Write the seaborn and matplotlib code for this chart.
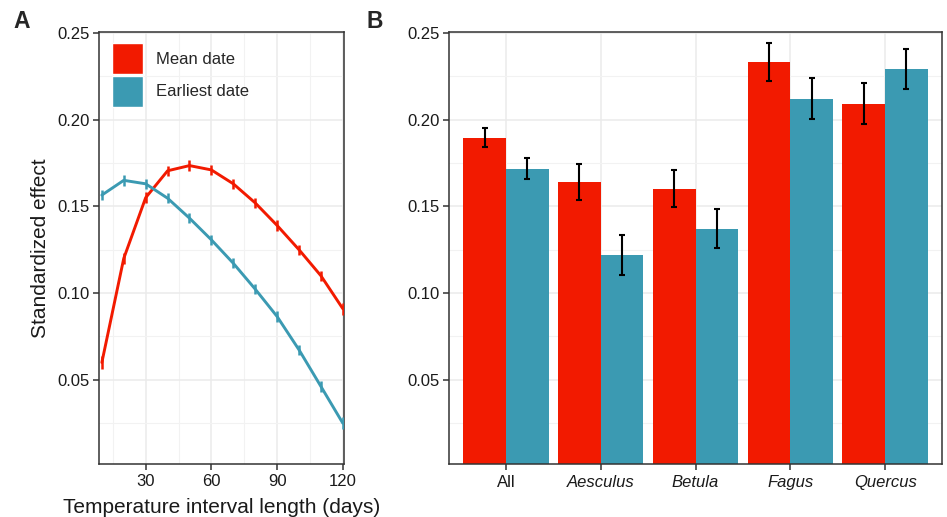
import numpy as np
import pandas as pd
import matplotlib
matplotlib.use("Agg")
import matplotlib.pyplot as plt
from matplotlib.patches import Patch
from matplotlib.ticker import MultipleLocator
import seaborn as sns

# ---- data ----
days = [10, 20, 30, 40, 50, 60, 70, 80, 90, 100, 110, 120]
mean_effect = [0.060, 0.120, 0.155, 0.1705, 0.1735, 0.171, 0.163, 0.152, 0.139, 0.125, 0.110, 0.091]
mean_err = [0.0035, 0.003, 0.003, 0.003, 0.003, 0.003, 0.003, 0.003, 0.003, 0.003, 0.003, 0.0035]
earliest_effect = [0.1565, 0.165, 0.163, 0.1547, 0.1432, 0.1307, 0.1172, 0.1023, 0.0865, 0.0673, 0.0462, 0.025]
earliest_err = [0.003, 0.003, 0.003, 0.003, 0.003, 0.003, 0.003, 0.003, 0.003, 0.003, 0.003, 0.0035]

categories = ["All", "Aesculus", "Betula", "Fagus", "Quercus"]
bar_mean = [0.1895, 0.1641, 0.1601, 0.2333, 0.2091]
bar_mean_err = [0.0055, 0.0104, 0.0107, 0.011, 0.0118]
bar_earliest = [0.1716, 0.122, 0.137, 0.212, 0.2293]
bar_earliest_err = [0.006, 0.0115, 0.0112, 0.0118, 0.0115]

series = ["Mean date", "Earliest date"]
colors = ["#F21A00", "#3B9AB2"]

sns.set_theme(style="white")
plt.rcParams["font.family"] = ["Liberation Sans", "DejaVu Sans"]

fig = plt.figure(figsize=(9.47, 5.17), dpi=100)
W, H = 947, 517
axA = fig.add_axes([99 / W, (H - 464) / H, (343.5 - 99) / W, (464 - 32) / H])
axB = fig.add_axes([449 / W, (H - 464) / H, (942 - 449) / W, (464 - 32) / H])

pal = dict(zip(series, colors))
grid_major = "#EBEBEB"
text_col = "#1a1a1a"
tick_fs = 12

# ---- panel A ----
dfA = pd.DataFrame({
    "days": days * 2,
    "effect": mean_effect + earliest_effect,
    "err": mean_err + earliest_err,
    "type": [series[0]] * len(days) + [series[1]] * len(days),
})
sns.lineplot(data=dfA, x="days", y="effect", hue="type", palette=pal,
             linewidth=2.1, ax=axA, legend=False, zorder=3)
for s in series:
    sub = dfA[dfA["type"] == s]
    axA.errorbar(sub["days"], sub["effect"], yerr=sub["err"], fmt="none",
                 ecolor=pal[s], elinewidth=1.8, capsize=0, zorder=4)

axA.set_xlim(8.7, 120.3)
axA.set_ylim(0.0015, 0.2505)
axA.xaxis.set_minor_locator(MultipleLocator(15))
axA.yaxis.set_minor_locator(MultipleLocator(0.025))
axA.set_xticks([30, 60, 90, 120])
axA.set_xticklabels(["30", "60", "90", "120"])
axA.set_yticks([0.05, 0.10, 0.15, 0.20, 0.25])
axA.set_yticklabels(["0.05", "0.10", "0.15", "0.20", "0.25"])
axA.set_xlabel("Temperature interval length (days)", fontsize=15, color=text_col, labelpad=7)
axA.set_ylabel("Standardized effect", fontsize=15, color=text_col, labelpad=5)

handles = [Patch(facecolor=c, edgecolor="white", linewidth=1) for c in colors]
axA.legend(handles, series, loc="upper left", bbox_to_anchor=(0.025, 0.99),
           frameon=False, fontsize=12, handlelength=1.86, handleheight=2.48,
           labelspacing=0.1, handletextpad=0.8, borderaxespad=0)

# ---- panel B ----
dfB = pd.DataFrame({
    "category": categories * 2,
    "effect": bar_mean + bar_earliest,
    "err": bar_mean_err + bar_earliest_err,
    "type": [series[0]] * len(categories) + [series[1]] * len(categories),
})
sns.barplot(data=dfB, x="category", y="effect", hue="type", palette=pal,
            order=categories, hue_order=series, width=0.9, gap=0,
            errorbar=None, saturation=1, linewidth=0, ax=axB, legend=False, zorder=2)
for cont, s in zip(axB.containers, series):
    sub = dfB[dfB["type"] == s].set_index("category").loc[categories]
    xs = [p.get_x() + p.get_width() / 2 for p in cont.patches]
    axB.errorbar(xs, sub["effect"].values, yerr=sub["err"].values, fmt="none",
                 ecolor="black", elinewidth=1.5, capsize=2.2, capthick=1.5, zorder=4)

axB.set_xlim(-0.6, 4.6)
axB.set_ylim(0.0015, 0.2505)
axB.yaxis.set_minor_locator(MultipleLocator(0.025))
axB.set_yticks([0.05, 0.10, 0.15, 0.20, 0.25])
axB.set_yticklabels(["0.05", "0.10", "0.15", "0.20", "0.25"])
axB.set_xlabel("")
axB.set_ylabel("")
axB.set_xticks(range(len(categories)))
axB.set_xticklabels(categories)
for lab in axB.get_xticklabels():
    if lab.get_text() != "All":
        lab.set_fontstyle("italic")

for ax in (axA, axB):
    ax.set_axisbelow(True)
    ax.grid(True, which="major", color=grid_major, linewidth=1.1, zorder=0)
    ax.grid(True, which="minor", color="#F2F2F2", linewidth=0.8, zorder=0)
    ax.tick_params(which="major", direction="out", length=4, width=1.1,
                   color="#333333", labelsize=tick_fs, labelcolor=text_col, pad=3,
                   bottom=True, left=True)
    ax.tick_params(which="minor", length=0)
    for sp in ax.spines.values():
        sp.set_visible(True)
        sp.set_color("#333333")
        sp.set_linewidth(1.1)
axB.grid(False, which="minor", axis="x")
axB.tick_params(axis="x", pad=4)

fig.text(13 / W, 1 - 21 / H, "A", fontsize=16.5, fontweight="bold", va="center", ha="left")
fig.text(366 / W, 1 - 21 / H, "B", fontsize=16.5, fontweight="bold", va="center", ha="left")

fig.savefig("out.png", dpi=100)
